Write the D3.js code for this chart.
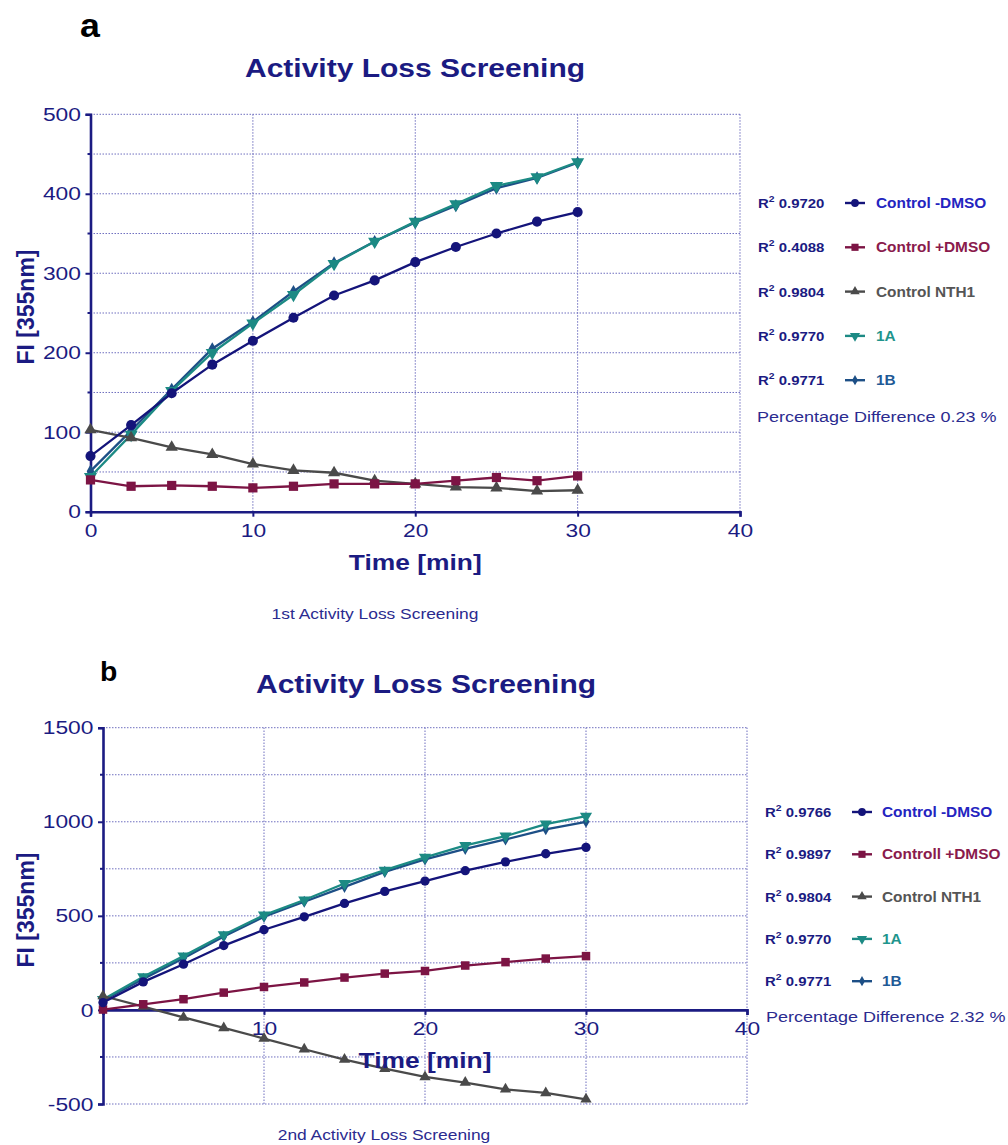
<!DOCTYPE html>
<html>
<head>
<meta charset="utf-8">
<script src="https://cdn.jsdelivr.net/npm/d3@7"></script>
<style>
  body { margin: 0; background: #fff; }
  text { font-family: "Liberation Sans", Arial, sans-serif; }
</style>
</head>
<body>
<svg id="chart" width="1008" height="1145"></svg>
<script>
// sampling times (min)
var times = [0, 2.5, 5, 7.5, 10, 12.5, 15, 17.5, 20, 22.5, 25, 27.5, 30];

// panel a: 1st screening
var aMinusDmso = [70, 109, 149, 185, 215, 244, 272, 291, 314, 333, 350, 365, 377];
var aPlusDmso  = [40, 32, 33, 32, 30, 32, 35, 35, 35, 39, 43, 39, 45];
var aNth1      = [103, 93, 81, 72, 60, 52, 49, 39, 35, 31, 30, 26, 27];
var a1A        = [44, 97, 152, 200, 237, 273, 312, 340, 365, 387, 410, 421, 440];
var a1B        = [51, 102, 154, 205, 239, 277, 313, 340, 364, 385, 407, 420, 439];

// panel b: 2nd screening
var bMinusDmso = [39, 149, 243, 342, 426, 495, 566, 630, 685, 740, 787, 830, 864];
var bPlusDmso  = [2, 30, 57, 92, 122, 146, 172, 193, 207, 236, 254, 273, 286];
var bNth1      = [74, 18, -40, -96, -152, -209, -264, -312, -356, -386, -422, -441, -475];
var b1A        = [55, 176, 286, 400, 504, 584, 672, 743, 811, 874, 924, 988, 1030];
var b1B        = [50, 165, 275, 390, 495, 575, 654, 734, 800, 856, 906, 960, 1000];

var namesA = ["Control -DMSO", "Control +DMSO", "Control NTH1", "1A", "1B"];
var namesB = ["Control -DMSO", "Controll +DMSO", "Control NTH1", "1A", "1B"];
var r2A = ["0.9720", "0.4088", "0.9804", "0.9770", "0.9771"];
var r2B = ["0.9766", "0.9897", "0.9804", "0.9770", "0.9771"];
var pctA = "Percentage Difference 0.23 %";
var pctB = "Percentage Difference 2.32 %";

var xTicksA = [0, 10, 20, 30, 40];
var xTicksB = [10, 20, 30, 40];
var yTicksA = [0, 100, 200, 300, 400, 500];
var yTicksB = [-500, 0, 500, 1000, 1500];
var gridA = [50, 100, 150, 200, 250, 300, 350, 400, 450, 500];
var gridB = [-500, -250, 250, 500, 750, 1000, 1250, 1500];
var gridX = [10, 20, 30, 40];

var NAVY = "#1b1b82";
var SX = 1.2; // the figure's text is horizontally stretched

// style of each series, same order as the names
var styles = [
  { line: "#14147a", text: "#2424c0", sym: d3.symbolCircle, rot: 0, size: 80 },
  { line: "#7c1444", text: "#8a1a4c", sym: d3.symbolSquare, rot: 0, size: 85 },
  { line: "#4a4a4a", text: "#555555", sym: d3.symbolTriangle, rot: 0, size: 65 },
  { line: "#1c8a84", text: "#1f958d", sym: d3.symbolTriangle, rot: 180, size: 75 },
  { line: "#1d4f86", text: "#1f5a96", sym: d3.symbolDiamond, rot: 0, size: 50 }
];

var svg = d3.select("#chart");

function label(g, x, y, txt, size, weight, color, anchor, sx) {
  return g.append("text")
    .attr("transform", "translate(" + x + "," + y + ") scale(" + (sx || SX) + ",1)")
    .attr("text-anchor", anchor || "start")
    .style("font-size", size + "px")
    .style("font-weight", weight)
    .style("fill", color)
    .text(txt);
}

function drawPanel(p) {
  var g = svg.append("g");
  var x = d3.scaleLinear().domain([0, 40]).range([p.x0, p.x1]);
  var y = d3.scaleLinear().domain(p.yDomain).range([p.y0, p.y1]);

  // dotted grid
  g.selectAll(".hg").data(p.grid).join("line")
    .attr("x1", x(0)).attr("x2", x(40))
    .attr("y1", d => y(d)).attr("y2", d => y(d))
    .style("stroke", "#6f6fbf").style("stroke-width", 1)
    .style("stroke-dasharray", "1.5,1.5");
  g.selectAll(".vg").data(gridX).join("line")
    .attr("x1", d => x(d)).attr("x2", d => x(d))
    .attr("y1", y(p.yDomain[0])).attr("y2", y(p.yDomain[1]))
    .style("stroke", "#6f6fbf").style("stroke-width", 1)
    .style("stroke-dasharray", "1.5,1.5");

  // axes
  var ya = g.append("g").attr("transform", "translate(" + x(0) + ",0)")
    .call(d3.axisLeft(y).tickValues(p.yTicks).tickFormat(d => String(d))
      .tickSize(5).tickPadding(3));
  g.selectAll(".mt").data(p.grid.filter(d => p.yTicks.indexOf(d) < 0)).join("line")
    .attr("x1", x(0) - 3).attr("x2", x(0))
    .attr("y1", d => y(d)).attr("y2", d => y(d))
    .style("stroke", NAVY).style("stroke-width", 2);

  var xa = g.append("g").attr("transform", "translate(0," + y(0) + ")")
    .call(d3.axisBottom(x).tickValues(p.xTicks).tickFormat(d => String(d))
      .tickSize(5).tickPadding(7));

  [ya, xa].forEach(function (a) {
    a.select(".domain").style("stroke", NAVY).style("stroke-width", 2.6);
    a.selectAll(".tick line").style("stroke", NAVY).style("stroke-width", 2);
    a.selectAll(".tick text")
      .style("font-size", "19px").style("fill", NAVY)
      .style("font-family", "Liberation Sans, Arial, sans-serif")
      .attr("transform", "scale(" + SX + ",1)");
  });

  // series
  var line = d3.line().x((d, i) => x(times[i])).y(d => y(d));
  p.order.forEach(function (k) {
    var s = styles[k];
    g.append("path").datum(p.series[k])
      .attr("d", line)
      .style("fill", "none").style("stroke", s.line).style("stroke-width", 2.3);
    g.selectAll(".m" + k).data(p.series[k]).join("path")
      .attr("d", d3.symbol().type(s.sym).size(s.size * p.msize))
      .attr("transform", (d, i) => "translate(" + x(times[i]) + "," + y(d) + ") rotate(" + s.rot + ")")
      .style("fill", s.line);
  });

  // texts
  label(g, p.tag[0], p.tag[1], p.tagText, p.tag[2], "bold", "#000", "start", 1.05);
  label(g, p.title[0], p.title[1], "Activity Loss Screening", 25, "bold", NAVY, "middle");
  label(g, x(20), p.xLabelY, "Time [min]", 22, "bold", NAVY, "middle");
  g.append("text")
    .attr("transform", "translate(" + p.yLabel[0] + "," + p.yLabel[1] + ") rotate(-90)")
    .attr("text-anchor", "middle")
    .style("font-size", "23px").style("font-weight", "bold").style("fill", NAVY)
    .text("FI [355nm]");
  label(g, p.sub[0], p.sub[1], p.subText, 14.5, "normal", "#2b2b8f", "middle");

  // legend
  p.names.forEach(function (n, i) {
    var s = styles[i];
    var by = p.leg.y + i * p.leg.step;
    var t = label(g, p.leg.x, by, "R", 13, "bold", NAVY, "start", 1.15);
    t.append("tspan").attr("dy", -6).style("font-size", "9px").text("2");
    t.append("tspan").attr("dy", 6).text(" " + p.r2[i]);
    var cy = by - 5;
    g.append("line")
      .attr("x1", p.leg.sx).attr("x2", p.leg.sx + 20)
      .attr("y1", cy).attr("y2", cy)
      .style("stroke", s.line).style("stroke-width", 2.4);
    g.append("path")
      .attr("d", d3.symbol().type(s.sym).size(s.size * 0.6))
      .attr("transform", "translate(" + (p.leg.sx + 10) + "," + cy + ") rotate(" + s.rot + ")")
      .style("fill", s.line);
    label(g, p.leg.tx, by, n, 14, "bold", s.text, "start", 1.1);
  });
  label(g, p.pct[0], p.pct[1], p.pctText, 15, "normal", "#2b2b8f", "start");
}

drawPanel({
  x0: 90.5, x1: 740, y0: 511.7, y1: 114.3, yDomain: [0, 500],
  yTicks: yTicksA, xTicks: xTicksA, grid: gridA, msize: 1,
  series: [aMinusDmso, aPlusDmso, aNth1, a1A, a1B], order: [4, 3, 2, 1, 0],
  tag: [80, 37, 34], tagText: "a",
  title: [415, 77], xLabelY: 570, yLabel: [34, 307],
  sub: [375, 619], subText: "1st Activity Loss Screening",
  names: namesA, r2: r2A,
  leg: { x: 758, y: 208, step: 44.3, sx: 845, tx: 876 },
  pct: [757, 422], pctText: pctA
});

drawPanel({
  x0: 103, x1: 747, y0: 1104, y1: 727.7, yDomain: [-500, 1500],
  yTicks: yTicksB, xTicks: xTicksB, grid: gridB, msize: 0.85,
  series: [bMinusDmso, bPlusDmso, bNth1, b1A, b1B], order: [4, 3, 2, 1, 0],
  tag: [100, 681, 27], tagText: "b",
  title: [426, 693], xLabelY: 1068, yLabel: [34, 910],
  sub: [384, 1140], subText: "2nd Activity Loss Screening",
  names: namesB, r2: r2B,
  leg: { x: 765, y: 817, step: 42.3, sx: 852, tx: 882 },
  pct: [766, 1022], pctText: pctB
});
</script>
</body>
</html>
